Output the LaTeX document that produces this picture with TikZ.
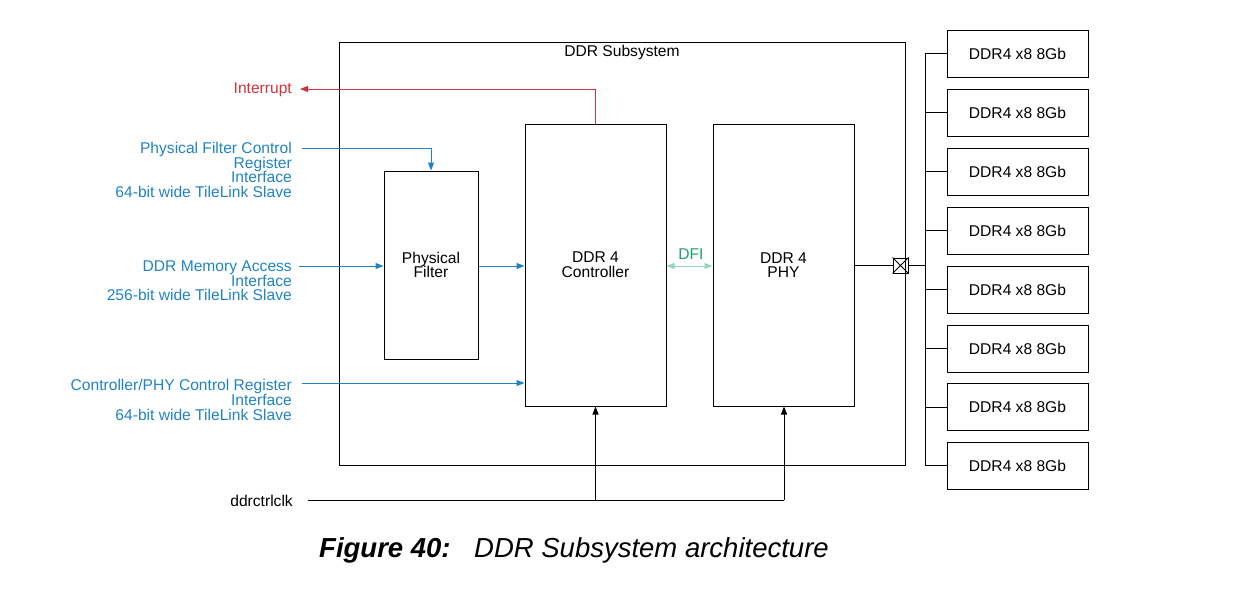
\documentclass[tikz,border=0pt]{standalone}
\usepackage{fontspec}
\setmainfont{Liberation Sans}
\usetikzlibrary{arrows.meta}
\definecolor{ibl}{RGB}{33,131,196}
\definecolor{ired}{RGB}{208,52,60}
\definecolor{igr}{RGB}{30,160,110}
\definecolor{igrl}{RGB}{150,215,185}
\tikzset{
  blk/.style={draw=black, line width=1pt, inner sep=0pt},
  lbl/.style={inner sep=0pt, font=\fontsize{15.6}{14.7}\selectfont},
  sig/.style={line width=1pt, -{Triangle[length=8pt,width=6pt]}},
  chip/.style={blk, minimum width=141pt, minimum height=47pt, font=\fontsize{15.6}{14.7}\selectfont},
}
\begin{document}
\begin{tikzpicture}[x=1pt,y=-1pt]
\useasboundingbox (0,0) rectangle (1249,589);
% subsystem
\draw[line width=1pt] (339,42) rectangle (905,465);
\node[lbl] (sub) at (622,52) {DDR Subsystem};
% blocks
\node[blk, minimum width=94pt, minimum height=188pt, align=center, font=\fontsize{15.6}{14.7}\selectfont] (pf) at (431,265) {Physical\\Filter};
\node[blk, minimum width=141pt, minimum height=282pt, align=center, font=\fontsize{15.6}{14.7}\selectfont] (ctl) at (595.5,265) {DDR 4\\Controller};
\node[blk, minimum width=141pt, minimum height=282pt, align=center, font=\fontsize{15.6}{14.7}\selectfont] (phy) at (783.5,265) {DDR 4\\PHY};
% chips
\foreach \i/\y in {1/53.5,2/112.5,3/171.5,4/230.5,5/289.5,6/348.5,7/407,8/465.5}{
  \node[chip] (c\i) at (1017.5,\y) {DDR4 x8 8Gb};
}
\coordinate (bt) at (925,53.5);
\coordinate (bb) at (925,465.5);
\draw[line width=1pt] (bt) -- (bb);
\foreach \i in {1,...,8}{
  \draw[line width=1pt] (c\i.west) -- (c\i.west -| bt);
}
% crossed box
\node[blk, minimum width=15pt, minimum height=15pt] (xb) at (900.5,265.5) {};
\draw[line width=1pt] (xb.north west) -- (xb.south east) (xb.north east) -- (xb.south west);
\draw[line width=1pt] (phy.east |- xb) -- (xb.west);
\draw[line width=1pt] (xb.east) -- (xb -| bt);
% interrupt
\node[lbl, anchor=east, text=ired] (irq) at (292,90) {Interrupt};
\coordinate (irqe) at (300,89);
\draw[sig, draw=ired] (ctl.north) -- (ctl.north |- irqe) -- (irqe);
% physical filter control
\node[lbl, anchor=east, align=right, text=ibl] (pfc) at (292,170) {Physical Filter Control\\Register\\Interface\\64-bit wide TileLink Slave};
\coordinate (pfcs) at (302,148);
\draw[sig, draw=ibl] (pfcs) -- (pfcs -| pf.north) -- (pf.north);
% memory access
\node[lbl, anchor=east, align=right, text=ibl] (mem) at (292,281) {DDR Memory Access\\Interface\\256-bit wide TileLink Slave};
\coordinate (mems) at (299,266);
\draw[sig, draw=ibl] (mems) -- (mems -| pf.west);
\draw[sig, draw=ibl] (pf.east |- mems) -- (mems -| ctl.west);
% controller/phy control
\node[lbl, anchor=east, align=right, text=ibl] (cpc) at (292,400) {Controller/PHY Control Register\\Interface\\64-bit wide TileLink Slave};
\coordinate (cpcs) at (302,383);
\draw[sig, draw=ibl] (cpcs) -- (cpcs -| ctl.west);
% DFI
\draw[line width=1pt, draw=igrl, {Triangle[length=8pt,width=6pt]}-{Triangle[length=8pt,width=6pt]}] (ctl.east |- mems) -- (phy.west |- mems);
\node[lbl, text=igr] (dfi) at (691,254) {DFI};
% clock
\node[lbl, anchor=east] (clk) at (293,501) {ddrctrlclk};
\coordinate (clks) at (308,500);
\coordinate (clke) at (784,500);
\draw[line width=1pt] (clks) -- (clke);
\draw[sig] (ctl.south |- clks) -- (ctl.south);
\draw[sig] (clke) -- (phy.south -| clke);
% caption
\node[inner sep=0pt, anchor=base west, font=\fontsize{27.5}{30}\selectfont\bfseries\itshape] (fig) at (319,557) {Figure 40:};
\node[inner sep=0pt, anchor=base west, font=\fontsize{27.5}{30}\selectfont\itshape] (cap) at (474,557) {DDR Subsystem architecture};
\end{tikzpicture}
\end{document}
